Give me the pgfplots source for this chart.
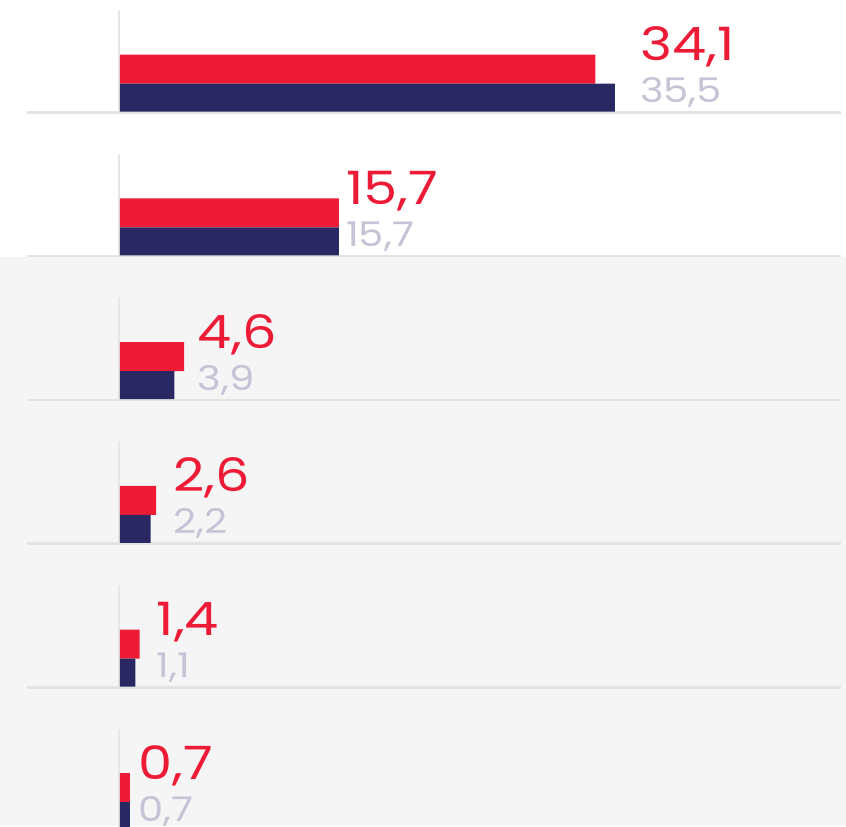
\documentclass[border=0pt]{standalone}
\usepackage{pgfplots}
\pgfplotsset{compat=1.18}
\usepackage{fontspec}
\setmainfont{Poppins}
\newfontfamily\labfont[FakeStretch=1.18]{Poppins}
\definecolor{cred}{RGB}{238,27,55}
\definecolor{cnavy}{RGB}{42,40,98}
\definecolor{cgraytxt}{RGB}{197,195,213}
\definecolor{cbg}{RGB}{245,245,245}
\definecolor{csep}{RGB}{228,228,228}
\definecolor{cvline}{RGB}{230,230,230}
\newcommand{\redlab}[1]{{\labfont\fontsize{46}{46}\selectfont #1}}
\newcommand{\graylab}[1]{{\labfont\fontsize{34}{34}\selectfont #1}}
\begin{document}
\begin{tikzpicture}
\begin{axis}[
  x=13.94pt, y=1pt, y dir=reverse,
  xmin=-8.608, xmax=52.08, ymin=0, ymax=826,
  scale only axis, hide axis, clip=false,
]
% background
\fill[cbg] (axis cs:-8.608,256.5) rectangle (axis cs:52.08,826);
% separators and vertical lines
\pgfplotsinvokeforeach{111.7,255.4,399.1,542.8,686.5,830.2}{
  \draw[csep, line width=2.5pt] (axis cs:-6.67,{#1+0.8}) -- (axis cs:51.72,{#1+0.8});
  \draw[cvline, line width=2pt] (axis cs:-0.07,{#1-101.7}) -- (axis cs:-0.07,#1);
}
% red bars
\addplot[xbar, bar shift=0pt, bar width=29pt, fill=cred, draw=none] coordinates {
  (34.1,69.2) (15.7,212.9) (4.6,356.6) (2.6,500.3) (1.4,644.0) (0.7,787.7)
};
% navy bars
\addplot[xbar, bar shift=0pt, bar width=28pt, fill=cnavy, draw=none] coordinates {
  (35.5,97.7) (15.7,241.4) (3.9,385.1) (2.2,528.8) (1.1,672.5) (0.7,816.2)
};
% labels
\tikzset{lab/.style={anchor=base west, inner sep=0pt}}
\node[lab, cred] at (axis cs:37.3,60.7) {\redlab{34,1}};
\node[lab, cgraytxt] at (axis cs:37.3,102.7) {\graylab{35,5}};
\node[lab, cred] at (axis cs:16.2,204.4) {\redlab{15,7}};
\node[lab, cgraytxt] at (axis cs:16.2,246.4) {\graylab{15,7}};
\node[lab, cred] at (axis cs:5.55,348.1) {\redlab{4,6}};
\node[lab, cgraytxt] at (axis cs:5.55,390.1) {\graylab{3,9}};
\node[lab, cred] at (axis cs:3.8,491.8) {\redlab{2,6}};
\node[lab, cgraytxt] at (axis cs:3.8,533.8) {\graylab{2,2}};
\node[lab, cred] at (axis cs:2.62,635.5) {\redlab{1,4}};
\node[lab, cgraytxt] at (axis cs:2.62,677.5) {\graylab{1,1}};
\node[lab, cred] at (axis cs:1.3,779.2) {\redlab{0,7}};
\node[lab, cgraytxt] at (axis cs:1.3,821.2) {\graylab{0,7}};
\end{axis}
\pgfresetboundingbox
\path (current axis.south west) rectangle (current axis.north east);
\end{tikzpicture}
\end{document}
